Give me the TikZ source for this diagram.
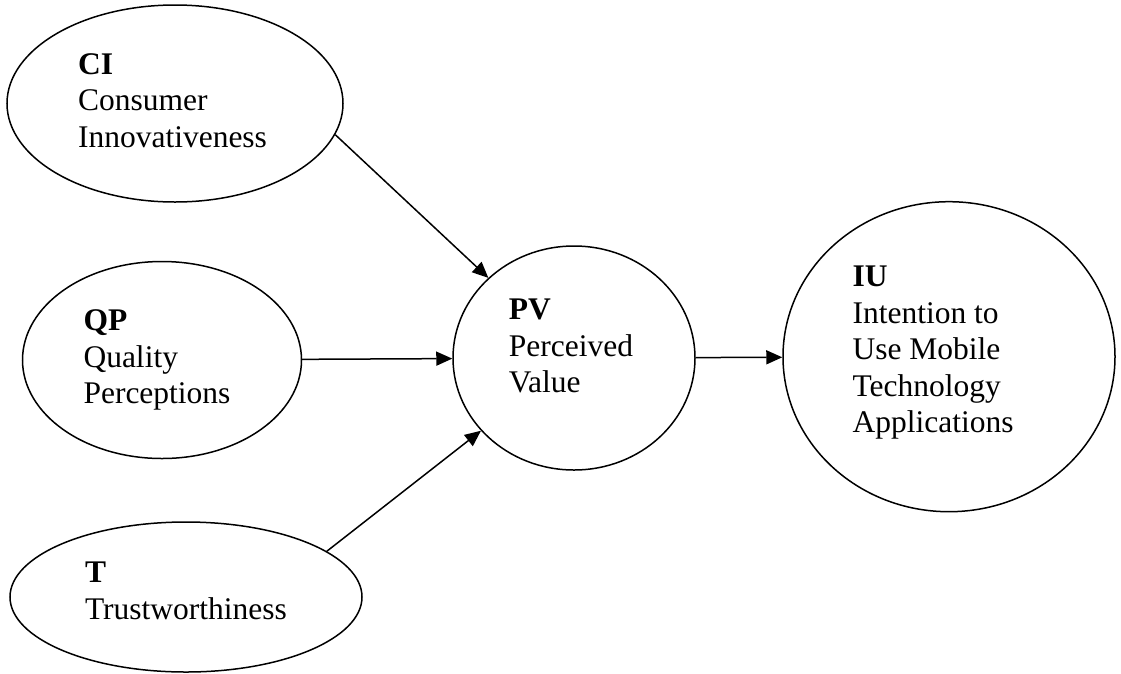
\documentclass[tikz,border=0pt]{standalone}
\usepackage{fontspec}
\setmainfont{Liberation Serif}
\usepackage{tikz}
\usetikzlibrary{arrows.meta,shapes.geometric}
\tikzset{
	factor/.style={draw,ellipse,line width=1.5pt,inner sep=0pt},
	factortxt/.style={align=left,inner sep=0pt,font=\fontsize{31.5}{36.6}\selectfont},
	path/.style={-{Triangle[length=16pt,width=14pt]},line width=1.5pt}
}

\begin{document}
\begin{tikzpicture}[x=1pt,y=-1pt]
		%\draw [help lines] (0,0) grid (1121,673);
		\useasboundingbox (0,0) rectangle (1121,673);
		%the five constructs
		\node [factor,minimum width=336pt,minimum height=197pt] (ci) at (175,103.5) {};
		\node [factor,minimum width=279pt,minimum height=197pt] (qp) at (162,360) {};
		\node [factor,minimum width=352pt,minimum height=150pt] (t) at (186,597) {};
		\node [factor,minimum width=242pt,minimum height=224pt] (pv) at (574,358) {};
		\node [factor,minimum width=332pt,minimum height=310pt] (iu) at (949,356.7) {};
		%their labels
		\node [factortxt] (ci-txt) at ([xshift=-2.5pt,yshift=3pt]ci.center) {\textbf{CI}\\Consumer\\Innovativeness};
		\node [factortxt] (qp-txt) at ([xshift=-5pt]qp.center) {\textbf{QP}\\Quality\\Perceptions};
		\node [factortxt] (t-txt) at ([yshift=6pt]t.center) {\textbf{T}\\Trustworthiness};
		\node [factortxt] (pv-txt) at ([xshift=-3pt,yshift=12pt]pv.center) {\textbf{PV}\\Perceived\\Value};
		\node [factortxt] (iu-txt) at ([xshift=-16pt,yshift=4pt]iu.center) {\textbf{IU}\\Intention to\\Use Mobile\\Technology\\Applications};
		%paths
		\draw [path] (ci.-11) -- (pv);
		\draw [path] (qp) -- (pv);
		\draw [path] (t.18) -- (pv);
		\draw [path] (pv) -- (iu);
\end{tikzpicture}
\end{document}
